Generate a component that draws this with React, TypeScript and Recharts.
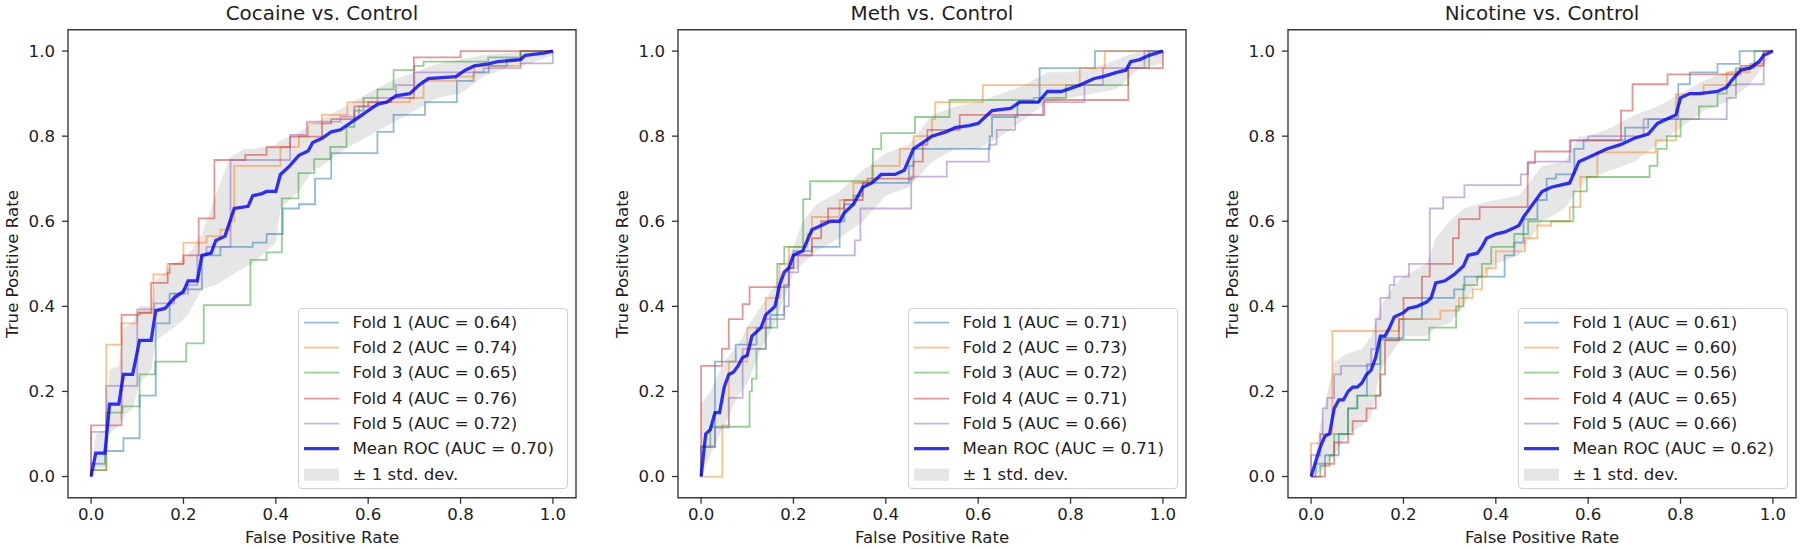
import React from 'react';
import { ComposedChart, Line, Area, XAxis, YAxis, ReferenceArea } from 'recharts';

type Pt = [number, number];
type Band = [number, number, number];

const TITLES = ['Cocaine vs. Control', 'Meth vs. Control', 'Nicotine vs. Control'];
const TICKS = [0, 0.2, 0.4, 0.6, 0.8, 1.0];
const FOLD_COLORS = ['#1f77b4', '#ff7f0e', '#2ca02c', '#d62728', '#9467bd'];
const FOLD_NAMES = ['Fold 1', 'Fold 2', 'Fold 3', 'Fold 4', 'Fold 5'];

// ---------- Cocaine ----------
const COC_AUC = [0.64, 0.74, 0.65, 0.76, 0.72];
const COC_MEAN_AUC = 0.7;
const COC_F1: Pt[] = [[0,0],[0,0.03],[0.03,0.06],[0.07,0.09],[0.105,0.19],[0.14,0.36],[0.17,0.43],[0.2,0.44],[0.24,0.52],[0.28,0.54],[0.35,0.55],[0.38,0.57],[0.415,0.63],[0.45,0.64],[0.485,0.7],[0.52,0.76],[0.62,0.81],[0.655,0.85],[0.723,0.88],[0.792,0.93],[0.828,0.95],[0.861,0.965],[0.9,0.98],[0.93,1],[1,1]];
const COC_F2: Pt[] = [[0,0],[0,0.015],[0.033,0.31],[0.066,0.36],[0.1,0.385],[0.135,0.475],[0.165,0.5],[0.2,0.55],[0.25,0.565],[0.28,0.58],[0.3,0.6],[0.31,0.73],[0.41,0.775],[0.45,0.8],[0.47,0.83],[0.5,0.85],[0.555,0.88],[0.69,0.89],[0.72,0.93],[0.79,0.94],[0.83,0.965],[0.93,1],[1,1]];
const COC_F3: Pt[] = [[0,0],[0,0.015],[0.033,0.15],[0.068,0.165],[0.105,0.24],[0.139,0.27],[0.206,0.313],[0.244,0.403],[0.345,0.509],[0.38,0.527],[0.413,0.654],[0.449,0.713],[0.483,0.746],[0.518,0.775],[0.553,0.822],[0.57,0.86],[0.59,0.89],[0.62,0.91],[0.655,0.955],[0.7,0.965],[0.72,0.975],[0.86,0.985],[0.93,1],[1,1]];
const COC_F4: Pt[] = [[0,0],[0,0.12],[0.066,0.38],[0.105,0.385],[0.13,0.455],[0.166,0.478],[0.17,0.5],[0.2,0.52],[0.233,0.607],[0.267,0.744],[0.334,0.756],[0.38,0.774],[0.431,0.799],[0.5,0.83],[0.52,0.84],[0.57,0.87],[0.6,0.88],[0.65,0.89],[0.699,0.985],[0.8,1],[1,1]];
const COC_F5: Pt[] = [[0,0],[0,0.105],[0.033,0.213],[0.1,0.393],[0.137,0.407],[0.18,0.43],[0.21,0.45],[0.23,0.52],[0.25,0.54],[0.302,0.744],[0.431,0.803],[0.467,0.834],[0.54,0.846],[0.58,0.87],[0.62,0.89],[0.66,0.92],[0.7,0.95],[0.85,0.96],[0.93,0.971],[1,1]];
const COC_MEAN: Pt[] = [[0,0],[0.01,0.055],[0.03,0.055],[0.04,0.17],[0.06,0.17],[0.07,0.24],[0.09,0.24],[0.105,0.32],[0.13,0.32],[0.14,0.39],[0.16,0.395],[0.18,0.42],[0.2,0.435],[0.21,0.46],[0.23,0.46],[0.24,0.52],[0.26,0.525],[0.27,0.555],[0.29,0.565],[0.31,0.63],[0.34,0.635],[0.35,0.66],[0.37,0.665],[0.38,0.67],[0.4,0.67],[0.41,0.71],[0.43,0.73],[0.45,0.755],[0.47,0.765],[0.48,0.785],[0.5,0.795],[0.52,0.81],[0.54,0.815],[0.56,0.83],[0.58,0.845],[0.6,0.86],[0.62,0.875],[0.64,0.88],[0.66,0.895],[0.69,0.9],[0.71,0.92],[0.73,0.935],[0.79,0.94],[0.81,0.955],[0.83,0.965],[0.86,0.97],[0.88,0.975],[0.93,0.98],[0.94,0.99],[0.98,0.995],[1,1]];
const COC_BAND: Band[] = [[0,0,0],[0.01,0.02,0.1],[0.03,0.02,0.11],[0.04,0.1,0.25],[0.06,0.12,0.26],[0.07,0.14,0.35],[0.09,0.16,0.36],[0.105,0.22,0.4],[0.13,0.25,0.4],[0.14,0.32,0.46],[0.18,0.35,0.5],[0.21,0.38,0.52],[0.24,0.44,0.57],[0.27,0.45,0.66],[0.3,0.47,0.75],[0.33,0.49,0.77],[0.35,0.5,0.77],[0.4,0.55,0.78],[0.41,0.63,0.79],[0.45,0.67,0.81],[0.48,0.72,0.83],[0.5,0.73,0.84],[0.55,0.77,0.87],[0.6,0.8,0.9],[0.65,0.83,0.93],[0.7,0.86,0.95],[0.75,0.89,0.97],[0.8,0.9,0.98],[0.85,0.94,0.99],[0.9,0.96,0.995],[0.95,0.97,1],[1,0.99,1]];

// ---------- Meth ----------
const METH_AUC = [0.71, 0.73, 0.72, 0.71, 0.66];
const METH_MEAN_AUC = 0.71;
const METH_F1: Pt[] = [[0,0],[0,0.07],[0.03,0.27],[0.075,0.31],[0.12,0.35],[0.15,0.38],[0.18,0.45],[0.19,0.49],[0.2,0.53],[0.24,0.54],[0.3,0.6],[0.31,0.64],[0.33,0.66],[0.35,0.69],[0.45,0.73],[0.46,0.77],[0.625,0.8],[0.63,0.845],[0.685,0.88],[0.733,0.96],[0.853,1],[1,1]];
const METH_F2: Pt[] = [[0,0],[0.046,0.12],[0.06,0.27],[0.1,0.35],[0.14,0.42],[0.17,0.5],[0.19,0.54],[0.23,0.57],[0.24,0.61],[0.3,0.65],[0.33,0.69],[0.37,0.73],[0.43,0.77],[0.46,0.8],[0.5,0.84],[0.507,0.88],[0.61,0.92],[0.82,0.96],[0.874,1],[1,1]];
const METH_F3: Pt[] = [[0,0],[0,0.07],[0.02,0.117],[0.105,0.2],[0.11,0.23],[0.12,0.3],[0.14,0.35],[0.165,0.5],[0.18,0.54],[0.221,0.652],[0.236,0.694],[0.372,0.77],[0.39,0.807],[0.463,0.845],[0.538,0.885],[0.72,0.89],[0.79,0.92],[0.925,0.96],[0.97,1],[1,1]];
const METH_F4: Pt[] = [[0,0],[0,0.26],[0.045,0.3],[0.06,0.37],[0.09,0.405],[0.105,0.445],[0.19,0.49],[0.2,0.52],[0.24,0.56],[0.26,0.6],[0.275,0.63],[0.31,0.65],[0.35,0.69],[0.36,0.7],[0.46,0.74],[0.48,0.78],[0.49,0.815],[0.56,0.85],[0.743,0.885],[0.925,0.96],[1,1]];
const METH_F5: Pt[] = [[0,0],[0,0.07],[0.03,0.115],[0.06,0.185],[0.09,0.3],[0.14,0.37],[0.18,0.4],[0.19,0.48],[0.21,0.52],[0.333,0.555],[0.345,0.63],[0.455,0.705],[0.532,0.74],[0.623,0.78],[0.64,0.815],[0.68,0.85],[0.74,0.88],[0.83,0.92],[0.87,0.96],[0.96,1],[1,1]];
const METH_MEAN: Pt[] = [[0,0],[0.01,0.1],[0.02,0.11],[0.03,0.15],[0.04,0.15],[0.05,0.21],[0.06,0.24],[0.07,0.245],[0.08,0.26],[0.09,0.28],[0.1,0.285],[0.11,0.33],[0.13,0.35],[0.14,0.38],[0.16,0.4],[0.17,0.45],[0.18,0.48],[0.19,0.49],[0.2,0.52],[0.22,0.53],[0.24,0.58],[0.26,0.59],[0.28,0.6],[0.3,0.6],[0.31,0.62],[0.33,0.64],[0.35,0.68],[0.37,0.69],[0.39,0.71],[0.42,0.71],[0.44,0.72],[0.46,0.77],[0.48,0.785],[0.5,0.8],[0.53,0.81],[0.55,0.82],[0.58,0.825],[0.6,0.83],[0.63,0.86],[0.67,0.865],[0.69,0.88],[0.73,0.88],[0.75,0.905],[0.78,0.905],[0.82,0.92],[0.85,0.935],[0.87,0.94],[0.9,0.95],[0.92,0.955],[0.93,0.975],[0.95,0.98],[0.97,0.99],[1,1]];
const METH_BAND: Band[] = [[0,0,0.17],[0.02,0.05,0.2],[0.05,0.12,0.27],[0.08,0.19,0.31],[0.1,0.22,0.35],[0.13,0.3,0.4],[0.16,0.36,0.45],[0.2,0.48,0.54],[0.22,0.5,0.6],[0.25,0.53,0.64],[0.3,0.56,0.67],[0.35,0.6,0.72],[0.4,0.66,0.76],[0.45,0.68,0.78],[0.5,0.74,0.85],[0.55,0.77,0.87],[0.6,0.77,0.88],[0.65,0.8,0.9],[0.7,0.84,0.92],[0.75,0.88,0.95],[0.8,0.89,0.95],[0.85,0.9,0.96],[0.9,0.91,0.98],[0.95,0.96,1],[1,0.97,1]];

// ---------- Nicotine ----------
const NIC_AUC = [0.61, 0.6, 0.56, 0.65, 0.66];
const NIC_MEAN_AUC = 0.62;
const NIC_F1: Pt[] = [[0,0],[0.01,0.03],[0.03,0.05],[0.06,0.1],[0.08,0.16],[0.1,0.19],[0.121,0.264],[0.15,0.325],[0.2,0.37],[0.24,0.42],[0.31,0.44],[0.332,0.47],[0.419,0.52],[0.44,0.55],[0.46,0.605],[0.49,0.65],[0.51,0.7],[0.53,0.71],[0.57,0.77],[0.59,0.79],[0.68,0.82],[0.73,0.84],[0.795,0.922],[0.82,0.95],[0.88,0.97],[0.928,1],[1,1]];
const NIC_F2: Pt[] = [[0,0],[0,0.078],[0.02,0.1],[0.046,0.342],[0.191,0.37],[0.28,0.39],[0.32,0.42],[0.35,0.44],[0.37,0.47],[0.38,0.49],[0.4,0.529],[0.463,0.56],[0.49,0.59],[0.52,0.6],[0.56,0.633],[0.583,0.704],[0.62,0.762],[0.746,0.79],[0.79,0.898],[0.85,0.92],[0.9,0.95],[0.95,0.97],[0.98,1],[1,1]];
const NIC_F3: Pt[] = [[0,0],[0.02,0.025],[0.04,0.05],[0.05,0.1],[0.08,0.16],[0.1,0.19],[0.15,0.321],[0.256,0.35],[0.314,0.4],[0.33,0.45],[0.36,0.47],[0.37,0.5],[0.39,0.54],[0.44,0.57],[0.47,0.6],[0.568,0.67],[0.597,0.704],[0.733,0.73],[0.75,0.77],[0.77,0.8],[0.8,0.84],[0.84,0.87],[0.88,0.9],[0.9,0.92],[0.92,0.96],[0.96,1],[1,1]];
const NIC_F4: Pt[] = [[0,0],[0.03,0.03],[0.05,0.08],[0.08,0.1],[0.09,0.13],[0.12,0.16],[0.14,0.19],[0.15,0.24],[0.16,0.32],[0.19,0.37],[0.2,0.42],[0.24,0.47],[0.257,0.5],[0.307,0.56],[0.32,0.605],[0.365,0.633],[0.469,0.737],[0.485,0.764],[0.562,0.79],[0.671,0.86],[0.696,0.922],[0.772,0.945],[0.93,0.965],[0.98,1],[1,1]];
const NIC_F5: Pt[] = [[0,0],[0,0.05],[0.02,0.1],[0.025,0.16],[0.035,0.185],[0.05,0.24],[0.065,0.26],[0.13,0.3],[0.14,0.37],[0.15,0.42],[0.17,0.45],[0.18,0.47],[0.212,0.5],[0.257,0.63],[0.286,0.656],[0.332,0.685],[0.454,0.71],[0.47,0.74],[0.56,0.79],[0.6,0.8],[0.72,0.84],[0.9,0.89],[0.92,0.922],[0.98,1],[1,1]];
const NIC_MEAN: Pt[] = [[0,0],[0.02,0.07],[0.03,0.095],[0.04,0.1],[0.05,0.16],[0.06,0.18],[0.07,0.18],[0.08,0.2],[0.09,0.21],[0.1,0.21],[0.11,0.22],[0.12,0.24],[0.13,0.25],[0.14,0.28],[0.15,0.33],[0.16,0.33],[0.17,0.35],[0.18,0.375],[0.2,0.385],[0.21,0.395],[0.23,0.4],[0.25,0.41],[0.26,0.42],[0.27,0.455],[0.29,0.46],[0.31,0.475],[0.33,0.495],[0.34,0.52],[0.36,0.525],[0.37,0.54],[0.38,0.56],[0.4,0.57],[0.42,0.575],[0.44,0.585],[0.45,0.59],[0.46,0.61],[0.48,0.64],[0.5,0.67],[0.52,0.68],[0.56,0.69],[0.58,0.74],[0.6,0.75],[0.64,0.77],[0.67,0.78],[0.7,0.795],[0.73,0.805],[0.75,0.83],[0.78,0.845],[0.79,0.85],[0.8,0.89],[0.82,0.9],[0.84,0.9],[0.88,0.905],[0.9,0.915],[0.91,0.93],[0.93,0.955],[0.95,0.96],[0.97,0.975],[0.98,0.99],[1,1]];
const NIC_BAND: Band[] = [[0,0,0],[0.02,0.01,0.12],[0.05,0.05,0.27],[0.08,0.1,0.29],[0.11,0.12,0.3],[0.13,0.14,0.33],[0.15,0.25,0.4],[0.18,0.3,0.45],[0.2,0.33,0.47],[0.25,0.33,0.5],[0.27,0.35,0.56],[0.3,0.36,0.6],[0.33,0.4,0.63],[0.36,0.46,0.64],[0.4,0.5,0.65],[0.45,0.52,0.66],[0.5,0.6,0.73],[0.55,0.63,0.74],[0.58,0.68,0.8],[0.6,0.7,0.8],[0.65,0.72,0.82],[0.7,0.74,0.85],[0.75,0.78,0.87],[0.8,0.82,0.9],[0.85,0.86,0.93],[0.9,0.88,0.95],[0.95,0.92,0.97],[1,1,1]];

const FONT = "'DejaVu Sans', sans-serif";
const TEXT = '#1e1e1e';
const CW = 610;
const CH = 549;
const PLOT_L = 68;
const PLOT_R = 576;
const PLOT_T = 29.8;
const PLOT_B = 497.8;

interface PanelProps {
  title: string;
  folds: Pt[][];
  aucs: number[];
  mean: Pt[];
  meanAuc: number;
  band: Band[];
  left: number;
}

const toXY = (pts: Pt[]) => pts.map(([x, y]) => ({ x, y }));

function LegendBox({ aucs, meanAuc }: { aucs: number[]; meanAuc: number }) {
  const rows: { label: string; kind: 'line' | 'mean' | 'patch'; color: string }[] = [
    ...aucs.map((a, i) => ({ label: `${FOLD_NAMES[i]} (AUC = ${a.toFixed(2)})`, kind: 'line' as const, color: FOLD_COLORS[i] })),
    { label: `Mean ROC (AUC = ${meanAuc.toFixed(2)})`, kind: 'mean', color: '#0000ff' },
    { label: '± 1 std. dev.', kind: 'patch', color: '#808080' },
  ];
  return (
    <div
      style={{
        position: 'absolute',
        left: PLOT_R - 8.5 - 270,
        top: 307.6,
        width: 270,
        height: 181,
        boxSizing: 'border-box',
        border: '1.3px solid #d0d0d0',
        borderRadius: 4,
        background: 'rgba(255,255,255,0.8)',
        paddingTop: 1.2,
      }}
    >
      {rows.map((r, i) => (
        <div key={i} style={{ position: 'relative', height: 25.3 }}>
          <svg width={36} height={25.3} style={{ position: 'absolute', left: 5.5, top: 0 }}>
            {r.kind === 'line' && (
              <line x1={0} x2={35} y1={12.65} y2={12.65} stroke={r.color} strokeOpacity={0.5} strokeWidth={1.8} />
            )}
            {r.kind === 'mean' && (
              <line x1={0} x2={35} y1={12.65} y2={12.65} stroke={r.color} strokeOpacity={0.8} strokeWidth={3.3} />
            )}
            {r.kind === 'patch' && <rect x={0} y={6.5} width={35} height={12.3} fill={r.color} fillOpacity={0.2} />}
          </svg>
          <div
            style={{
              position: 'absolute',
              left: 54,
              top: 0,
              height: 25.3,
              lineHeight: '25.3px',
              fontSize: 16.6,
              fontFamily: FONT,
              color: TEXT,
              whiteSpace: 'nowrap',
            }}
          >
            {r.label}
          </div>
        </div>
      ))}
    </div>
  );
}

function Panel({ title, folds, aucs, mean, meanAuc, band, left }: PanelProps) {
  const bandData = band.map(([x, lo, hi]) => ({ x, r: [lo, hi] }));
  const tickStyle = { fill: TEXT, fontSize: 16.6, fontFamily: FONT };
  return (
    <div style={{ position: 'absolute', left, top: 0, width: CW, height: CH }}>
      <ComposedChart
        width={CW}
        height={CH}
        margin={{ top: PLOT_T, right: CW - PLOT_R, bottom: 0, left: 0 }}
      >
        <XAxis
          type="number"
          dataKey="x"
          domain={[-0.05, 1.05]}
          ticks={TICKS}
          interval={0}
          allowDataOverflow
          height={CH - PLOT_B}
          tickFormatter={(v: number) => v.toFixed(1)}
          tick={tickStyle}
          tickSize={6}
          tickMargin={4}
          axisLine={false}
          tickLine={{ stroke: '#333', strokeWidth: 1.3 }}
        />
        <YAxis
          type="number"
          domain={[-0.05, 1.05]}
          ticks={TICKS}
          interval={0}
          allowDataOverflow
          width={PLOT_L}
          tickFormatter={(v: number) => v.toFixed(1)}
          tick={tickStyle}
          tickSize={6}
          tickMargin={7}
          axisLine={false}
          tickLine={{ stroke: '#333', strokeWidth: 1.3 }}
        />
        {folds.map((f, i) => (
          <Line
            key={`f${i}`}
            data={toXY(f)}
            dataKey="y"
            type="stepAfter"
            stroke={FOLD_COLORS[i]}
            strokeOpacity={0.5}
            strokeWidth={1.8}
            dot={false}
            activeDot={false}
            isAnimationActive={false}
          />
        ))}
        <Line
          data={toXY(mean)}
          dataKey="y"
          type="linear"
          stroke="#0000ff"
          strokeOpacity={0.8}
          strokeWidth={3.3}
          dot={false}
          activeDot={false}
          isAnimationActive={false}
        />
        <Area
          data={bandData}
          dataKey="r"
          type="linear"
          fill="#808080"
          fillOpacity={0.2}
          stroke="none"
          dot={false}
          activeDot={false}
          isAnimationActive={false}
        />
        <ReferenceArea
          x1={-0.05}
          x2={1.05}
          y1={-0.05}
          y2={1.05}
          fill="none"
          stroke="#3a3a3a"
          strokeWidth={1.4}
          ifOverflow="visible"
        />
      </ComposedChart>
      <div
        style={{
          position: 'absolute',
          left: PLOT_L,
          width: PLOT_R - PLOT_L,
          top: 2,
          height: 24,
          lineHeight: '24px',
          textAlign: 'center',
          fontSize: 19.9,
          fontFamily: FONT,
          color: TEXT,
          whiteSpace: 'nowrap',
        }}
      >
        {title}
      </div>
      <div
        style={{
          position: 'absolute',
          left: PLOT_L,
          width: PLOT_R - PLOT_L,
          top: 527,
          height: 22,
          lineHeight: '22px',
          textAlign: 'center',
          fontSize: 16.6,
          fontFamily: FONT,
          color: TEXT,
          whiteSpace: 'nowrap',
        }}
      >
        False Positive Rate
      </div>
      <div
        style={{
          position: 'absolute',
          left: 13,
          top: (PLOT_T + PLOT_B) / 2,
          transform: 'translate(-50%, -50%) rotate(-90deg)',
          fontSize: 16.6,
          fontFamily: FONT,
          color: TEXT,
          whiteSpace: 'nowrap',
          lineHeight: '20px',
        }}
      >
        True Positive Rate
      </div>
      <LegendBox aucs={aucs} meanAuc={meanAuc} />
    </div>
  );
}

export default function App() {
  return (
    <div style={{ position: 'absolute', left: 0, top: 0, width: 1800, height: 549, background: '#fff', overflow: 'hidden' }}>
      <Panel title={TITLES[0]} folds={[COC_F1, COC_F2, COC_F3, COC_F4, COC_F5]} aucs={COC_AUC} mean={COC_MEAN} meanAuc={COC_MEAN_AUC} band={COC_BAND} left={0} />
      <Panel title={TITLES[1]} folds={[METH_F1, METH_F2, METH_F3, METH_F4, METH_F5]} aucs={METH_AUC} mean={METH_MEAN} meanAuc={METH_MEAN_AUC} band={METH_BAND} left={610} />
      <Panel title={TITLES[2]} folds={[NIC_F1, NIC_F2, NIC_F3, NIC_F4, NIC_F5]} aucs={NIC_AUC} mean={NIC_MEAN} meanAuc={NIC_MEAN_AUC} band={NIC_BAND} left={1220} />
    </div>
  );
}
